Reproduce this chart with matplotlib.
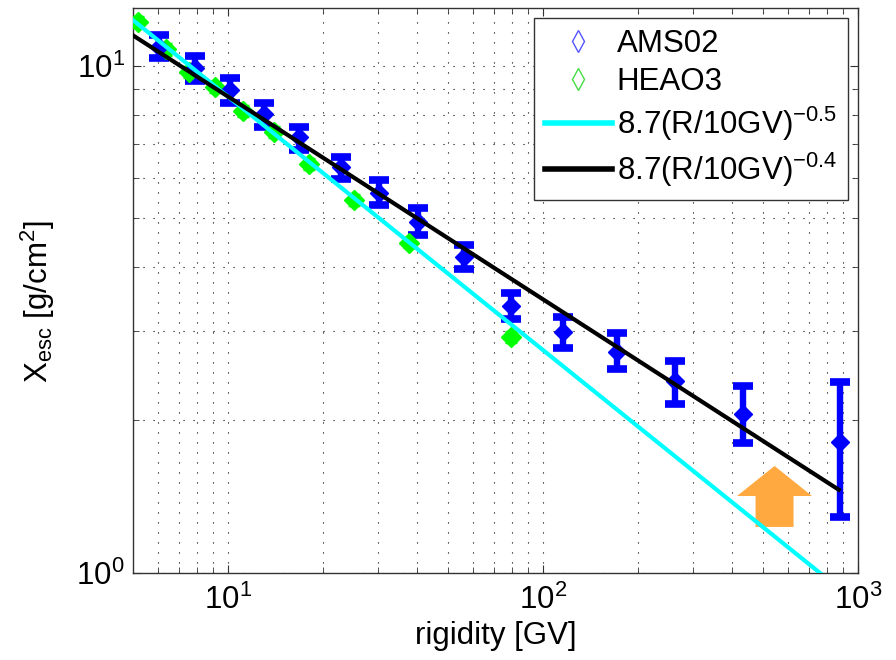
import numpy as np
import matplotlib
matplotlib.use('Agg')
import matplotlib.pyplot as plt
from matplotlib.lines import Line2D
from matplotlib.patches import Polygon
from matplotlib.ticker import NullFormatter

plt.rcParams['font.family'] = ['Liberation Sans', 'DejaVu Sans']
plt.rcParams['mathtext.fontset'] = 'custom'
plt.rcParams['mathtext.rm'] = 'Liberation Sans'
plt.rcParams['mathtext.it'] = 'Liberation Sans:italic'

FS = 22.5

#%% escape grammage from B/C
ams_R = [6.04, 7.86, 10.2, 13.0, 16.8, 22.8, 30.1, 40.3, 56.4, 79.4, 116, 172, 263, 432, 877]
ams_X = [10.9, 9.88, 8.94, 8.05, 7.25, 6.30, 5.62, 4.92, 4.19, 3.36, 2.99, 2.73, 2.39, 2.06, 1.81]
ams_hi = [11.49, 10.43, 9.44, 8.45, 7.58, 6.62, 5.94, 5.23, 4.42, 3.57, 3.20, 2.97, 2.62, 2.34, 2.38]
ams_lo = [10.34, 9.35, 8.43, 7.58, 6.83, 5.99, 5.32, 4.64, 3.98, 3.17, 2.78, 2.52, 2.15, 1.80, 1.29]

heao_R = [5.19, 6.36, 7.52, 9.10, 11.16, 14.0, 18.1, 25.1, 37.5, 79.4]
heao_X = [12.18, 10.77, 9.74, 9.06, 8.15, 7.39, 6.40, 5.44, 4.48, 2.92]
heao_err = [0.28, 0.25, 0.22, 0.20, 0.18, 0.17, 0.15, 0.12, 0.10, 0.07]

# power law fits X = X0 (R/10GV)^-delta
X0 = 8.7
deltas = [0.5, 0.4]
R_fit = np.array([5.0, 870.0])

fig = plt.figure(figsize=(8.96, 6.6), dpi=100)
ax = fig.add_axes([0.1484, 0.1323, 0.8089, 0.8556])

ax.errorbar(heao_R, heao_X, yerr=heao_err, fmt='D', color='#00ff00', ms=10,
            elinewidth=3, capsize=4, capthick=2.5, zorder=3)
ams_X_arr = np.array(ams_X)
yerr = [ams_X_arr - np.array(ams_lo), np.array(ams_hi) - ams_X_arr]
ax.errorbar(ams_R, ams_X, yerr=yerr, fmt='D', color='#0000ff', ms=9.5,
            elinewidth=4.6, capsize=7.2, capthick=5.5, zorder=3)

ax.plot(R_fit, X0*(R_fit/10.0)**(-deltas[0]), color='#00ffff', lw=3, zorder=4)
ax.plot(R_fit, X0*(R_fit/10.0)**(-deltas[1]), color='k', lw=3, zorder=4)

# arrow marking the high rigidity region
cx, tip, hb, bot, hw, sw = 0.8852, 0.189, 0.1358, 0.081, 0.0517, 0.0262
arrow = Polygon([(cx-sw, bot), (cx+sw, bot), (cx+sw, hb), (cx+hw, hb), (cx, tip),
                 (cx-hw, hb), (cx-sw, hb)], closed=True, transform=ax.transAxes,
                facecolor='#ffa940', edgecolor='none', zorder=3.5)
ax.add_patch(arrow)

ax.set_xscale('log')
ax.set_yscale('log')
ax.set_xlim(5, 1000)
ax.set_ylim(1, 13)
ax.yaxis.set_minor_formatter(NullFormatter())
ax.xaxis.set_minor_formatter(NullFormatter())

ax.grid(True, which='both', color='k', linestyle=(0, (1, 8)), lw=0.8)
ax.tick_params(which='both', direction='in', top=True, right=True, labelsize=FS, colors='#333333',
               labelcolor='k')
ax.tick_params(which='major', length=6)
ax.tick_params(which='minor', length=4)
ax.tick_params(axis='x', pad=9)
ax.tick_params(axis='y', pad=6)
for s in ax.spines.values():
    s.set_color('#333333')
    s.set_linewidth(1.0)

ax.set_xlabel('rigidity [GV]', fontsize=FS)
ax.set_ylabel(r'X$_{\rm esc}$ [g/cm$^2$]', fontsize=FS)
ax.xaxis.set_label_coords(0.5, -0.085)
ax.yaxis.set_label_coords(-0.105, 0.48)

handles = [
    Line2D([], [], ls='none', marker='d', mfc='none', mec='#5555ff', ms=11, mew=1),
    Line2D([], [], ls='none', marker='d', mfc='none', mec='#44dd44', ms=11, mew=1),
    Line2D([], [], color='#00ffff', lw=4),
    Line2D([], [], color='k', lw=4),
]
labels = ['AMS02', 'HEAO3', r'8.7(R/10GV)$^{-0.5}$', r'8.7(R/10GV)$^{-0.4}$']
leg = ax.legend(handles, labels, loc='upper right', bbox_to_anchor=(0.9866, 0.9823),
                borderaxespad=0, fontsize=FS, handlelength=2.14, handletextpad=0.16,
                labelspacing=0.25, borderpad=0.35, fancybox=False, framealpha=1)
leg.get_frame().set_edgecolor('#333333')
leg.get_frame().set_linewidth(1.0)
leg.set_zorder(10)

fig.savefig('out.png', dpi=100)
